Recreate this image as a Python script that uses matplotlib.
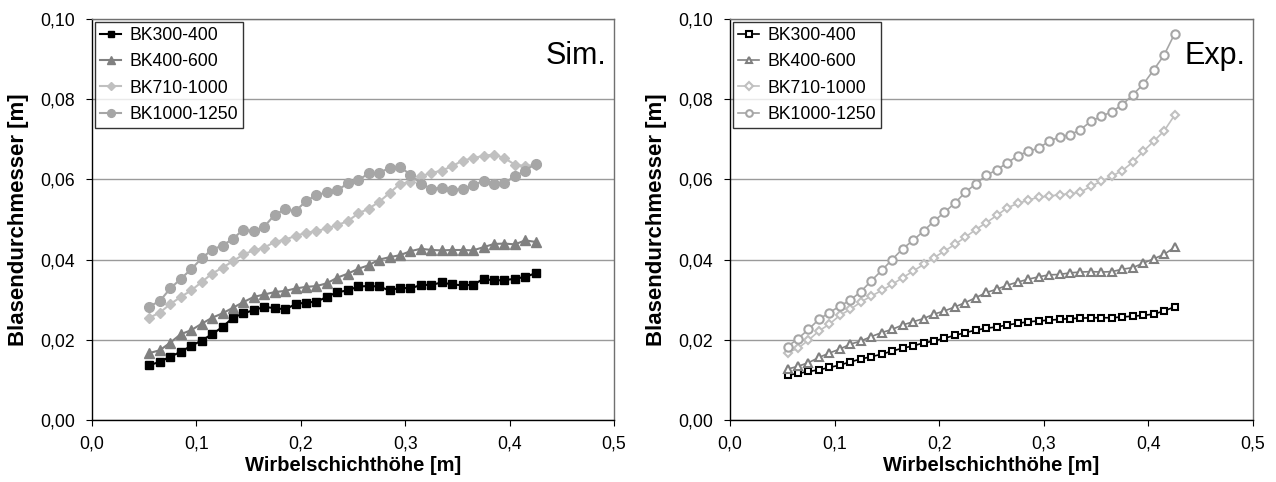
import numpy as np
import matplotlib
matplotlib.use('Agg')
import matplotlib.pyplot as plt
from matplotlib.ticker import FuncFormatter

plt.rcParams['font.family'] = ['Liberation Sans', 'DejaVu Sans']

# Wirbelschichthöhe [m]
hoehe = [0.055, 0.065, 0.075, 0.085, 0.095, 0.105, 0.115, 0.125, 0.135, 0.145,
         0.155, 0.165, 0.175, 0.185, 0.195, 0.205, 0.215, 0.225, 0.235, 0.245,
         0.255, 0.265, 0.275, 0.285, 0.295, 0.305, 0.315, 0.325, 0.335, 0.345,
         0.355, 0.365, 0.375, 0.385, 0.395, 0.405, 0.415, 0.425]

labels = ['BK300-400', 'BK400-600', 'BK710-1000', 'BK1000-1250']

# Simulation
sim_300 = [0.0137, 0.0145, 0.0158, 0.0170, 0.0185, 0.0198, 0.0214, 0.0232, 0.0255, 0.0266,
           0.0274, 0.0282, 0.0279, 0.0276, 0.0289, 0.0293, 0.0295, 0.0307, 0.0319, 0.0323,
           0.0333, 0.0334, 0.0333, 0.0323, 0.0330, 0.0328, 0.0337, 0.0337, 0.0343, 0.0338,
           0.0336, 0.0337, 0.0352, 0.0348, 0.0349, 0.0352, 0.0357, 0.0366]
sim_400 = [0.0167, 0.0174, 0.0193, 0.0214, 0.0224, 0.0240, 0.0255, 0.0266, 0.0280, 0.0294,
           0.0307, 0.0313, 0.0319, 0.0322, 0.0328, 0.0332, 0.0334, 0.0341, 0.0355, 0.0365,
           0.0377, 0.0386, 0.0400, 0.0406, 0.0411, 0.0421, 0.0427, 0.0424, 0.0423, 0.0424,
           0.0424, 0.0423, 0.0431, 0.0439, 0.0440, 0.0438, 0.0448, 0.0444]
sim_710 = [0.0255, 0.0268, 0.0289, 0.0307, 0.0323, 0.0344, 0.0365, 0.0380, 0.0396, 0.0413,
           0.0423, 0.0430, 0.0444, 0.0450, 0.0459, 0.0467, 0.0471, 0.0478, 0.0486, 0.0496,
           0.0515, 0.0527, 0.0544, 0.0566, 0.0589, 0.0593, 0.0608, 0.0616, 0.0622, 0.0633,
           0.0647, 0.0653, 0.0659, 0.0662, 0.0653, 0.0637, 0.0633, 0.0637]
sim_1000 = [0.0283, 0.0297, 0.0328, 0.0352, 0.0376, 0.0403, 0.0425, 0.0435, 0.0452, 0.0475,
            0.0471, 0.0482, 0.0512, 0.0525, 0.0521, 0.0546, 0.0561, 0.0568, 0.0573, 0.0590,
            0.0598, 0.0615, 0.0616, 0.0629, 0.0631, 0.0612, 0.0589, 0.0577, 0.0579, 0.0573,
            0.0577, 0.0585, 0.0597, 0.0589, 0.0591, 0.0608, 0.0622, 0.0639]

# Experiment
exp_300 = [0.0112, 0.0116, 0.0121, 0.0125, 0.0131, 0.0137, 0.0145, 0.0152, 0.0158, 0.0164,
           0.0172, 0.0179, 0.0185, 0.0192, 0.0197, 0.0204, 0.0211, 0.0218, 0.0224, 0.0229,
           0.0232, 0.0237, 0.0241, 0.0245, 0.0247, 0.0249, 0.0251, 0.0253, 0.0254, 0.0255,
           0.0255, 0.0255, 0.0257, 0.0259, 0.0261, 0.0264, 0.0272, 0.0282]
exp_400 = [0.0127, 0.0134, 0.0143, 0.0156, 0.0167, 0.0177, 0.0189, 0.0197, 0.0208, 0.0218,
           0.0226, 0.0237, 0.0245, 0.0253, 0.0264, 0.0272, 0.0282, 0.0293, 0.0305, 0.0318,
           0.0326, 0.0336, 0.0344, 0.0351, 0.0357, 0.0362, 0.0363, 0.0367, 0.0369, 0.0370,
           0.0369, 0.0370, 0.0376, 0.0380, 0.0391, 0.0402, 0.0413, 0.0431]
exp_710 = [0.0168, 0.0179, 0.0199, 0.0222, 0.0239, 0.0261, 0.0276, 0.0294, 0.0309, 0.0323,
           0.0338, 0.0355, 0.0371, 0.0388, 0.0405, 0.0421, 0.0438, 0.0456, 0.0475, 0.0492,
           0.0510, 0.0529, 0.0540, 0.0548, 0.0556, 0.0558, 0.0562, 0.0564, 0.0568, 0.0583,
           0.0595, 0.0608, 0.0622, 0.0643, 0.0670, 0.0695, 0.0721, 0.0760]
exp_1000 = [0.0183, 0.0203, 0.0226, 0.0251, 0.0268, 0.0284, 0.0299, 0.0320, 0.0347, 0.0373,
            0.0400, 0.0427, 0.0448, 0.0471, 0.0496, 0.0518, 0.0541, 0.0568, 0.0589, 0.0610,
            0.0624, 0.0641, 0.0659, 0.0670, 0.0678, 0.0695, 0.0706, 0.0711, 0.0724, 0.0745,
            0.0757, 0.0769, 0.0786, 0.0811, 0.0837, 0.0873, 0.0910, 0.0963]

colors = ['#000000', '#808080', '#c0c0c0', '#a6a6a6']
markers = ['s', '^', 'D', 'o']
msizes = [6, 7, 5, 7]
msizes_open = [5, 6, 4.5, 6]

fig = plt.figure(figsize=(12.76, 4.82), dpi=100)
ax1 = fig.add_axes([0.0721, 0.1286, 0.4091, 0.832])
ax2 = fig.add_axes([0.5721, 0.1286, 0.4099, 0.832])

comma = FuncFormatter(lambda v, p: ('%.2f' % v).replace('.', ','))
comma1 = FuncFormatter(lambda v, p: ('%.1f' % v).replace('.', ','))


def style_axis(ax, tag):
    ax.set_xlim(0, 0.5)
    ax.set_ylim(0, 0.1)
    ax.set_xticks([0, 0.1, 0.2, 0.3, 0.4, 0.5])
    ax.set_yticks([0, 0.02, 0.04, 0.06, 0.08, 0.1])
    ax.xaxis.set_major_formatter(comma1)
    ax.yaxis.set_major_formatter(comma)
    ax.yaxis.grid(True, color='#9a9a9a', linewidth=1.0)
    ax.set_axisbelow(True)
    ax.tick_params(axis='both', labelsize=12.7, direction='out', length=4, color='black')
    ax.tick_params(axis='y', pad=8)
    ax.tick_params(axis='x', pad=7)
    ax.spines['left'].set_color('black')
    ax.spines['bottom'].set_color('black')
    ax.spines['top'].set_color('#707070')
    ax.spines['right'].set_color('#707070')
    for s in ax.spines.values():
        s.set_linewidth(1.0)
    ax.set_xlabel('Wirbelschichthöhe [m]', fontsize=14.5, fontweight='bold', labelpad=3)
    ax.set_ylabel('Blasendurchmesser [m]', fontsize=16, fontweight='bold')
    ax.yaxis.set_label_coords(-0.121, 0.5)
    ax.text(0.985, 0.888, tag, transform=ax.transAxes, ha='right', va='baseline', fontsize=22)


sim = [sim_300, sim_400, sim_710, sim_1000]
for vals, lab, c, m, ms in zip(sim, labels, colors, markers, msizes):
    ax1.plot(hoehe, vals, color=c, marker=m, markersize=ms, linewidth=1.5,
             markerfacecolor=c, markeredgecolor=c, label=lab)

exp = [exp_300, exp_400, exp_710, exp_1000]
for vals, lab, c, m, ms in zip(exp, labels, colors, markers, msizes_open):
    ax2.plot(hoehe, vals, color=c, marker=m, markersize=ms, linewidth=1.2,
             markerfacecolor='white', markeredgecolor=c, markeredgewidth=1.5, label=lab)

style_axis(ax1, 'Sim.')
style_axis(ax2, 'Exp.')

for ax in (ax1, ax2):
    leg = ax.legend(loc='upper left', fontsize=12.7, frameon=True, fancybox=False,
                    borderaxespad=0.15, handlelength=1.2, handletextpad=0.45,
                    labelspacing=0.53, borderpad=0.3, markerscale=0.8)
    leg.get_frame().set_edgecolor('black')
    leg.get_frame().set_linewidth(1.0)

fig.savefig('out.png', dpi=100)
